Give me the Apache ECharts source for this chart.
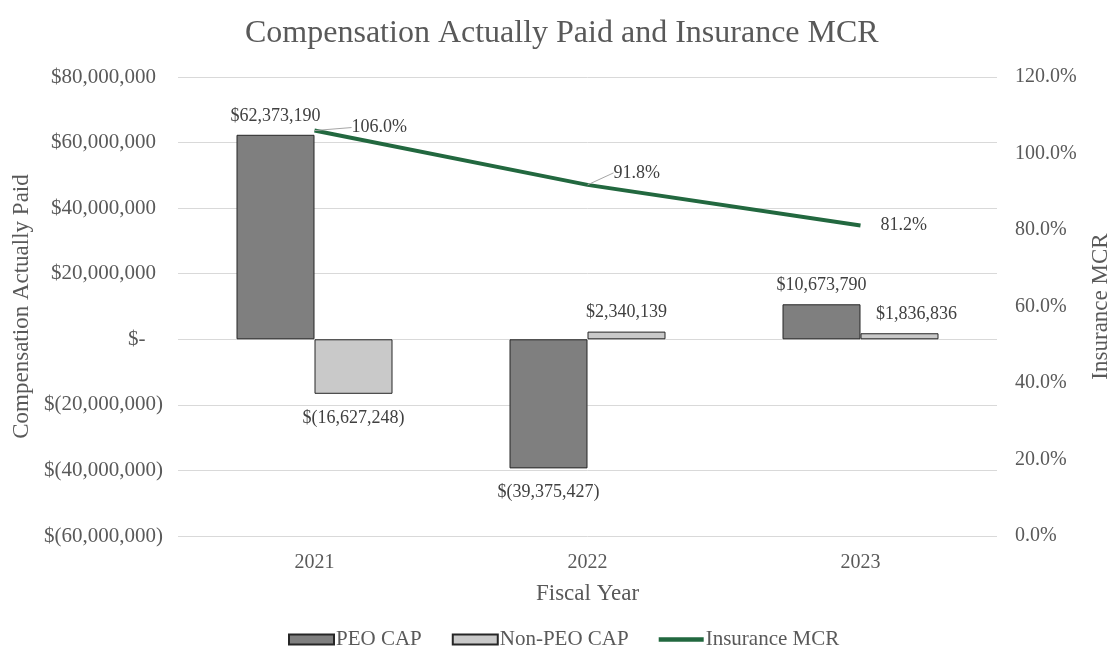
<!DOCTYPE html>
<html>
<head>
<meta charset="utf-8">
<script src="https://cdn.jsdelivr.net/npm/echarts@6/dist/echarts.min.js"></script>
<style>
  html, body { margin: 0; padding: 0; background: #fff; }
  #chart { width: 1108px; height: 657px; }
</style>
</head>
<body>
<div id="chart"></div>
<script>
// 数据
const years = ['2021', '2022', '2023'];
const peoCap = [62373190, -39375427, 10673790];
const nonPeoCap = [-16627248, 2340139, 1836836];
const insuranceMcr = [106.0, 91.8, 81.2];

const FONT = '"Liberation Serif", "Times New Roman", serif';
const GREY_TEXT = '#595959';
const LABEL_TEXT = '#404040';
const GREEN = '#22683f';

// 金额格式，负数用括号
const fmtMoney = (v) => {
  if (v === 0) return '$-';
  const s = Math.abs(v).toLocaleString('en-US');
  return v < 0 ? '$(' + s + ')' : '$' + s;
};

// 坐标轴标签：仿 Excel 会计格式，正数右侧留出括号位置
const fmtAxisMoney = (v) => {
  if (v === 0) return '{t|$-}{p|)\u00a0\u00a0}';
  if (v > 0) return '{t|' + fmtMoney(v) + '}{p|)}';
  return '{t|' + fmtMoney(v) + '}';
};

// 柱子标签偏移（第二个系列 2023 的标签偏右）
const nonPeoLabelOffset = [[0, 0], [0, 0], [17, 0]];

const barData = (vals, offsets) => vals.map((v, i) => ({
  value: v,
  label: {
    position: v < 0 ? 'bottom' : 'top',
    distance: v < 0 ? 15 : 10,
    offset: offsets ? offsets[i] : [0, 0]
  }
}));

// 折线标签偏移
const mcrLabelOffset = [[33, -3], [22, -12], [16, 0]];
const mcrLeader = [true, true, false];

const chart = echarts.init(document.getElementById('chart'));

const option = {
  backgroundColor: '#fff',
  textStyle: { fontFamily: FONT },
  title: {
    text: 'Compensation Actually Paid and Insurance MCR',
    left: 240,
    top: 13,
    textStyle: { fontFamily: FONT, fontSize: 32, fontWeight: 'normal', color: GREY_TEXT }
  },
  legend: {
    bottom: 2,
    left: 283,
    itemWidth: 45,
    itemHeight: 10,
    itemGap: 30,
    textStyle: { fontFamily: FONT, fontSize: 21, color: GREY_TEXT, padding: [0, 0, 0, -3] },
    data: [
      { name: 'PEO CAP', icon: 'rect' },
      { name: 'Non-PEO CAP', icon: 'rect' },
      { name: 'Insurance MCR', icon: 'path://M0,0 L45,0 L45,4.5 L0,4.5 Z' }
    ]
  },
  grid: { left: 178, right: 111, top: 77, bottom: 121, outerBoundsMode: 'none', containLabel: false },
  xAxis: {
    type: 'category',
    data: years,
    name: 'Fiscal Year',
    nameLocation: 'middle',
    nameGap: 46,
    nameTextStyle: { fontFamily: FONT, fontSize: 23, color: GREY_TEXT },
    axisLine: { show: false },
    axisTick: { show: false },
    axisLabel: { fontFamily: FONT, fontSize: 20, color: GREY_TEXT, margin: 17 }
  },
  yAxis: [
    {
      type: 'value',
      min: -60000000,
      max: 80000000,
      interval: 20000000,
      name: 'Compensation Actually Paid',
      nameLocation: 'middle',
      nameGap: 144,
      nameTextStyle: { fontFamily: FONT, fontSize: 23, color: GREY_TEXT },
      axisLine: { show: false },
      axisTick: { show: false },
      axisLabel: {
        fontFamily: FONT,
        fontSize: 21,
        color: GREY_TEXT,
        margin: 15,
        formatter: fmtAxisMoney,
        rich: {
          t: { fontFamily: FONT, fontSize: 21, color: GREY_TEXT },
          p: { fontFamily: FONT, fontSize: 21, color: 'rgba(0,0,0,0)' }
        }
      },
      splitLine: { lineStyle: { color: '#d9d9d9', width: 1 } }
    },
    {
      type: 'value',
      min: 0,
      max: 120,
      interval: 20,
      name: 'Insurance MCR',
      nameLocation: 'middle',
      nameGap: 92,
      nameTextStyle: { fontFamily: FONT, fontSize: 23, color: GREY_TEXT },
      axisLine: { show: false },
      axisTick: { show: false },
      axisLabel: { fontFamily: FONT, fontSize: 20, color: GREY_TEXT, margin: 18, formatter: v => v.toFixed(1) + '%' },
      splitLine: { show: false }
    }
  ],
  series: [
    {
      name: 'PEO CAP',
      type: 'bar',
      yAxisIndex: 0,
      barWidth: 78,
      barGap: '0%',
      data: barData(peoCap),
      itemStyle: { color: '#7f7f7f', borderColor: '#262626', borderWidth: 1 },
      label: {
        show: true,
        fontFamily: FONT,
        fontSize: 18,
        color: LABEL_TEXT,
        formatter: p => fmtMoney(p.value)
      }
    },
    {
      name: 'Non-PEO CAP',
      type: 'bar',
      yAxisIndex: 0,
      barWidth: 78,
      barGap: '0%',
      data: barData(nonPeoCap, nonPeoLabelOffset),
      itemStyle: { color: '#c9c9c9', borderColor: '#262626', borderWidth: 1 },
      label: {
        show: true,
        fontFamily: FONT,
        fontSize: 18,
        color: LABEL_TEXT,
        formatter: p => fmtMoney(p.value)
      }
    },
    {
      name: 'Insurance MCR',
      type: 'line',
      yAxisIndex: 1,
      data: insuranceMcr.map((v, i) => ({ value: v, labelLine: { show: mcrLeader[i] } })),
      symbol: 'circle',
      symbolSize: 0.1,
      showSymbol: true,
      lineStyle: { color: GREEN, width: 4 },
      itemStyle: { color: GREEN },
      label: {
        show: true,
        position: 'right',
        distance: 4,
        fontFamily: FONT,
        fontSize: 18,
        color: LABEL_TEXT,
        formatter: p => p.value.toFixed(1) + '%'
      },
      labelLayout: p => ({ dx: mcrLabelOffset[p.dataIndex][0], dy: mcrLabelOffset[p.dataIndex][1] }),
      labelLine: { show: true, length2: 0, lineStyle: { color: '#a6a6a6', width: 1 } },
      z: 5
    }
  ]
};

chart.setOption(option);
</script>
</body>
</html>
